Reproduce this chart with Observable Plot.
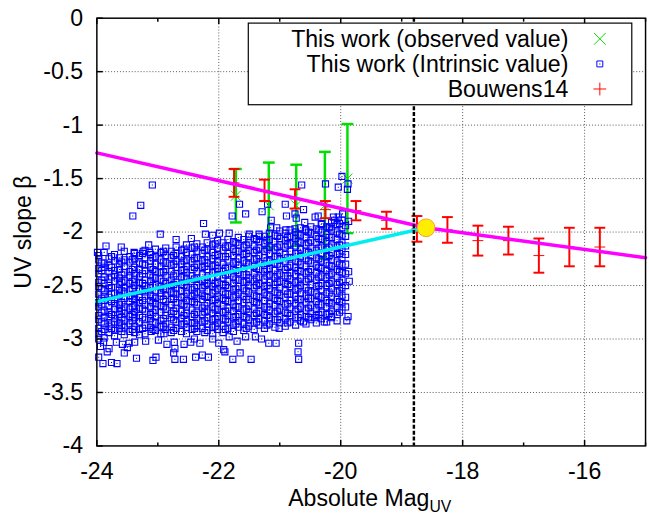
<!DOCTYPE html>
<html>
<head>
<meta charset="utf-8">
<script src="https://cdn.jsdelivr.net/npm/d3@7"></script>
<script src="https://cdn.jsdelivr.net/npm/@observablehq/plot@0.6"></script>
<style>
  html, body { margin: 0; padding: 0; background: #fff; overflow: hidden; }
</style>
</head>
<body>
<div id="chart"></div>
<script>
// ---------- axis ticks ----------
const xTicks = [-24, -22, -20, -18, -16];
const xMinorTicks = [-23, -21, -19, -17, -15];
const yTicks = [0, -0.5, -1, -1.5, -2, -2.5, -3, -3.5, -4];

// ---------- Bouwens et al. 2014 binned UV slopes ----------
const bouwensM    = [-21.75, -21.25, -20.75, -20.25, -19.75, -19.25, -18.75, -18.25, -17.75, -17.25, -16.75, -16.25, -15.75];
const bouwensBeta = [-1.54, -1.61, -1.69, -1.79, -1.80, -1.89, -1.97, -1.98, -2.08, -2.08, -2.22, -2.14, -2.14];
const bouwensErr  = [0.13, 0.10, 0.09, 0.08, 0.09, 0.08, 0.12, 0.12, 0.14, 0.13, 0.16, 0.18, 0.18];

// ---------- this work: observed (binned) ----------
const observedM    = [-21.72, -21.18, -20.73, -20.26, -19.89];
const observedBeta = [-1.66, -1.75, -1.75, -1.75, -1.50];
const observedErr  = [0.25, 0.40, 0.38, 0.50, 0.51];

// ---------- this work: intrinsic values of individual galaxies ----------
// dense part of the sample, grouped by magnitude
const intrinsicColumns = [
  [-23.97, [-2.22,-2.26,-2.34,-2.39,-2.47,-2.51,-2.58,-2.66,-2.70,-2.78,-2.82,-2.90,-2.95]],
  [-23.92, [-2.29,-2.36,-2.45,-2.53,-2.62,-2.68,-2.75,-2.84,-2.93]],
  [-23.88, [-2.19,-2.29,-2.33,-2.42,-2.48,-2.55,-2.60,-2.64,-2.73,-2.80,-2.86,-2.91,-2.99]],
  [-23.80, [-2.25,-2.31,-2.37,-2.44,-2.50,-2.53,-2.61,-2.69,-2.75,-2.79,-2.88,-2.94]],
  [-23.76, [-2.23,-2.33,-2.42,-2.52,-2.58,-2.65,-2.77,-2.86,-2.90]],
  [-23.71, [-2.21,-2.27,-2.36,-2.40,-2.46,-2.57,-2.63,-2.67,-2.72,-2.81,-2.84,-2.92,-2.97]],
  [-23.63, [-2.24,-2.30,-2.35,-2.43,-2.49,-2.54,-2.59,-2.68,-2.74,-2.77,-2.85,-2.90]],
  [-23.59, [-2.28,-2.40,-2.47,-2.55,-2.66,-2.73,-2.80,-2.87,-2.93]],
  [-23.55, [-2.18,-2.26,-2.32,-2.38,-2.45,-2.52,-2.56,-2.62,-2.70,-2.76,-2.83,-2.89,-2.96]],
  [-23.46, [-2.23,-2.28,-2.37,-2.41,-2.48,-2.55,-2.60,-2.65,-2.72,-2.79,-2.86,-2.93]],
  [-23.42, [-2.26,-2.35,-2.46,-2.53,-2.62,-2.70,-2.77,-2.83,-2.91]],
  [-23.38, [-2.20,-2.25,-2.33,-2.39,-2.44,-2.50,-2.58,-2.63,-2.69,-2.75,-2.80,-2.88,-2.94]],
  [-23.30, [-2.22,-2.29,-2.35,-2.42,-2.47,-2.53,-2.61,-2.66,-2.71,-2.78,-2.84,-2.91]],
  [-23.25, [-2.20,-2.30,-2.39,-2.48,-2.55,-2.64,-2.72,-2.80,-2.90]],
  [-23.21, [-2.17,-2.24,-2.31,-2.36,-2.45,-2.50,-2.56,-2.60,-2.68,-2.74,-2.82,-2.87,-2.95]],
  [-23.12, [-2.21,-2.27,-2.33,-2.40,-2.46,-2.52,-2.59,-2.64,-2.70,-2.77,-2.81,-2.89]],
  [-23.08, [-2.24,-2.35,-2.42,-2.50,-2.60,-2.66,-2.75,-2.84,-2.91]],
  [-23.04, [-2.16,-2.23,-2.30,-2.37,-2.43,-2.49,-2.55,-2.62,-2.67,-2.73,-2.79,-2.85,-2.92]],
  [-22.95, [-2.19,-2.26,-2.32,-2.38,-2.44,-2.51,-2.57,-2.60,-2.69,-2.75,-2.83,-2.88,-2.95]],
  [-22.91, [-2.18,-2.28,-2.37,-2.46,-2.53,-2.63,-2.70,-2.81,-2.88]],
  [-22.87, [-2.15,-2.22,-2.29,-2.35,-2.41,-2.48,-2.54,-2.59,-2.65,-2.72,-2.78,-2.86,-2.91]],
  [-22.78, [-2.18,-2.24,-2.31,-2.37,-2.45,-2.50,-2.56,-2.63,-2.68,-2.76,-2.80,-2.89,-2.94]],
  [-22.74, [-2.22,-2.30,-2.41,-2.49,-2.57,-2.62,-2.74,-2.82,-2.92]],
  [-22.70, [-2.14,-2.20,-2.27,-2.33,-2.39,-2.47,-2.53,-2.58,-2.66,-2.71,-2.77,-2.84,-2.90]],
  [-22.61, [-2.17,-2.23,-2.30,-2.36,-2.42,-2.49,-2.55,-2.61,-2.67,-2.74,-2.81,-2.86,-2.93]],
  [-22.57, [-2.16,-2.27,-2.35,-2.42,-2.50,-2.60,-2.68,-2.78,-2.86]],
  [-22.53, [-2.12,-2.19,-2.26,-2.32,-2.38,-2.44,-2.52,-2.57,-2.64,-2.70,-2.76,-2.83,-2.89,-2.95]],
  [-22.44, [-2.15,-2.21,-2.28,-2.35,-2.41,-2.46,-2.54,-2.60,-2.65,-2.73,-2.79,-2.85,-2.91]],
  [-22.40, [-2.14,-2.25,-2.33,-2.44,-2.52,-2.58,-2.66,-2.77,-2.85,-2.90]],
  [-22.36, [-2.11,-2.18,-2.24,-2.30,-2.37,-2.43,-2.50,-2.56,-2.62,-2.68,-2.75,-2.81,-2.88,-2.93]],
  [-22.27, [-2.14,-2.20,-2.27,-2.33,-2.40,-2.46,-2.52,-2.59,-2.63,-2.71,-2.77,-2.84,-2.90]],
  [-22.23, [-2.17,-2.26,-2.32,-2.45,-2.50,-2.60,-2.69,-2.75,-2.83,-2.94]],
  [-22.19, [-2.10,-2.16,-2.23,-2.29,-2.35,-2.42,-2.48,-2.55,-2.61,-2.66,-2.73,-2.80,-2.86,-2.92]],
  [-22.10, [-2.12,-2.19,-2.25,-2.32,-2.38,-2.44,-2.51,-2.57,-2.64,-2.70,-2.76,-2.82,-2.89,-2.95]],
  [-22.06, [-2.11,-2.22,-2.31,-2.37,-2.48,-2.55,-2.63,-2.72,-2.81,-2.88]],
  [-22.02, [-2.08,-2.15,-2.21,-2.28,-2.34,-2.41,-2.47,-2.53,-2.60,-2.67,-2.72,-2.79,-2.85,-2.91]],
  [-21.93, [-2.10,-2.17,-2.23,-2.30,-2.37,-2.43,-2.49,-2.56,-2.62,-2.69,-2.75,-2.81,-2.88,-2.94]],
  [-21.89, [-2.14,-2.23,-2.34,-2.40,-2.50,-2.58,-2.64,-2.74,-2.82,-2.91]],
  [-21.85, [-2.07,-2.13,-2.20,-2.26,-2.33,-2.39,-2.46,-2.52,-2.58,-2.65,-2.71,-2.78,-2.84,-2.90]],
  [-21.76, [-2.09,-2.16,-2.22,-2.29,-2.35,-2.42,-2.48,-2.54,-2.61,-2.68,-2.74,-2.80,-2.87,-2.93]],
  [-21.72, [-2.10,-2.18,-2.28,-2.36,-2.44,-2.53,-2.60,-2.70,-2.79,-2.86]],
  [-21.68, [-2.05,-2.12,-2.18,-2.25,-2.31,-2.38,-2.45,-2.51,-2.57,-2.64,-2.70,-2.77,-2.83,-2.89]],
  [-21.59, [-2.07,-2.14,-2.21,-2.27,-2.34,-2.40,-2.47,-2.53,-2.60,-2.66,-2.73,-2.79,-2.86,-2.92]],
  [-21.55, [-2.12,-2.20,-2.29,-2.40,-2.46,-2.55,-2.63,-2.72,-2.80,-2.90]],
  [-21.51, [-2.04,-2.10,-2.17,-2.23,-2.30,-2.37,-2.43,-2.50,-2.56,-2.63,-2.69,-2.75,-2.82,-2.88]],
  [-21.42, [-2.06,-2.13,-2.19,-2.26,-2.32,-2.39,-2.46,-2.52,-2.59,-2.65,-2.72,-2.78,-2.85,-2.91]],
  [-21.38, [-2.07,-2.17,-2.25,-2.34,-2.43,-2.50,-2.60,-2.66,-2.76,-2.84]],
  [-21.34, [-2.02,-2.09,-2.15,-2.22,-2.29,-2.35,-2.42,-2.48,-2.55,-2.61,-2.68,-2.74,-2.81,-2.87]],
  [-21.25, [-2.04,-2.11,-2.18,-2.24,-2.31,-2.37,-2.44,-2.51,-2.57,-2.64,-2.70,-2.77,-2.83,-2.90]],
  [-21.21, [-2.08,-2.16,-2.27,-2.35,-2.41,-2.50,-2.59,-2.70,-2.78,-2.87]],
  [-21.17, [-2.01,-2.07,-2.14,-2.20,-2.27,-2.34,-2.40,-2.47,-2.53,-2.60,-2.67,-2.73,-2.80,-2.86]],
  [-21.08, [-2.03,-2.09,-2.16,-2.23,-2.29,-2.36,-2.43,-2.49,-2.56,-2.62,-2.69,-2.76,-2.82,-2.89]],
  [-21.04, [-2.04,-2.14,-2.23,-2.30,-2.40,-2.47,-2.57,-2.64,-2.74,-2.82]],
  [-21.00, [-1.99,-2.06,-2.12,-2.19,-2.26,-2.32,-2.39,-2.46,-2.52,-2.59,-2.65,-2.72,-2.79,-2.85]],
  [-20.91, [-2.01,-2.08,-2.14,-2.21,-2.28,-2.35,-2.41,-2.48,-2.55,-2.61,-2.68,-2.75,-2.81,-2.88]],
  [-20.87, [-2.05,-2.12,-2.24,-2.33,-2.41,-2.49,-2.58,-2.67,-2.76,-2.85]],
  [-20.83, [-1.98,-2.04,-2.11,-2.18,-2.24,-2.31,-2.38,-2.44,-2.51,-2.58,-2.64,-2.71,-2.78,-2.84]],
  [-20.74, [-2.00,-2.06,-2.13,-2.20,-2.27,-2.33,-2.40,-2.47,-2.54,-2.60,-2.67,-2.74,-2.80,-2.87]],
  [-20.70, [-2.02,-2.09,-2.20,-2.28,-2.36,-2.46,-2.53,-2.63,-2.72,-2.80]],
  [-20.66, [-1.96,-2.03,-2.10,-2.16,-2.23,-2.30,-2.37,-2.43,-2.50,-2.57,-2.63,-2.70,-2.77,-2.83]],
  [-20.57, [-1.98,-2.05,-2.12,-2.18,-2.25,-2.32,-2.39,-2.46,-2.52,-2.59,-2.66,-2.73,-2.79,-2.86]],
  [-20.53, [-2.00,-2.10,-2.19,-2.27,-2.37,-2.44,-2.55,-2.62,-2.71,-2.80]],
  [-20.49, [-1.95,-2.01,-2.08,-2.15,-2.22,-2.29,-2.35,-2.42,-2.49,-2.56,-2.62,-2.69,-2.76,-2.82]],
  [-20.40, [-1.97,-2.04,-2.10,-2.17,-2.24,-2.31,-2.38,-2.45,-2.51,-2.58,-2.65,-2.72,-2.78,-2.85]],
  [-20.36, [-1.98,-2.06,-2.15,-2.25,-2.33,-2.42,-2.50,-2.60,-2.68,-2.77]],
  [-20.32, [-1.93,-2.00,-2.07,-2.14,-2.20,-2.27,-2.34,-2.41,-2.48,-2.54,-2.61,-2.68,-2.75,-2.81]],
  [-20.23, [-1.95,-2.02,-2.09,-2.16,-2.23,-2.29,-2.36,-2.43,-2.50,-2.57,-2.64,-2.70,-2.77,-2.84]],
  [-20.19, [-1.96,-2.05,-2.14,-2.22,-2.31,-2.40,-2.48,-2.57,-2.66,-2.76]],
  [-20.15, [-1.91,-1.98,-2.05,-2.12,-2.19,-2.26,-2.32,-2.39,-2.46,-2.53,-2.60,-2.67,-2.74,-2.80]],
  [-20.06, [-1.93,-2.00,-2.07,-2.14,-2.21,-2.28,-2.35,-2.42,-2.49,-2.56,-2.63,-2.70,-2.77,-2.83]],
  [-20.02, [-1.92,-2.02,-2.12,-2.20,-2.30,-2.37,-2.47,-2.55,-2.65,-2.75]],
  [-19.98, [-1.89,-1.96,-2.03,-2.10,-2.17,-2.24,-2.31,-2.38,-2.45,-2.52,-2.59,-2.66,-2.73]],
  [-19.92, [-1.94,-2.04,-2.13,-2.21,-2.30,-2.39,-2.50,-2.61,-2.70]]
];

// sparse galaxies above and below the main locus
const intrinsicScatter = [
  [-23.09,-1.56],[-23.28,-1.75],[-23.41,-1.85],[-22.96,-2.02],[-22.25,-1.92],[-22.22,-2.02],
  [-21.99,-2.01],[-21.83,-2.01],[-21.78,-1.85],[-21.66,-1.74],[-21.56,-1.83],[-21.50,-2.02],
  [-21.29,-1.81],[-21.20,-1.74],[-21.14,-1.89],[-21.33,-2.04],[-21.15,-1.96],[-21.05,-1.96],
  [-20.91,-1.74],[-20.89,-1.85],[-20.90,-1.98],[-20.75,-1.83],[-20.73,-1.87],[-20.75,-1.97],
  [-20.64,-1.56],[-20.61,-1.79],[-20.59,-1.91],[-20.58,-1.98],[-20.42,-1.86],[-20.37,-1.85],
  [-20.31,-1.92],[-20.25,-1.55],[-20.18,-1.95],[-20.12,-1.86],[-20.04,-1.86],[-20.04,-1.58],
  [-19.98,-1.48],[-19.88,-1.55],[-19.89,-1.60],[-19.87,-1.90],[-19.97,-1.83],[-20.10,-1.89],
  [-19.87,-2.37],[-19.86,-2.46],[-19.88,-2.79],[-19.90,-2.83],
  [-23.99,-2.19],[-23.39,-2.19],[-23.24,-2.18],[-23.13,-2.19],[-23.85,-2.13],[-23.60,-2.14],
  [-23.15,-2.12],[-22.70,-2.07],[-22.45,-2.06],[-22.10,-2.03],
  [-23.97,-3.17],[-23.90,-3.23],[-23.76,-3.22],[-23.67,-3.23],[-23.35,-3.18],[-23.08,-3.20],
  [-23.03,-3.17],[-22.72,-3.19],[-22.58,-3.19],[-22.38,-3.17],[-22.27,-3.15],[-22.17,-3.17],
  [-21.90,-3.12],[-21.77,-3.19],[-21.65,-3.13],[-21.47,-3.19],[-21.18,-3.04],[-21.06,-3.04],
  [-20.69,-3.04],[-20.70,-3.12],[-20.69,-3.19],[-21.92,-3.10],
  [-23.97,-3.00],[-23.89,-3.03],[-23.80,-3.09],[-23.68,-3.03],[-23.58,-3.05],[-23.55,-3.13],
  [-23.47,-3.04],[-23.38,-3.03],[-23.30,-2.96],[-23.11,-2.93],[-22.99,-3.01],[-22.90,-2.95],
  [-22.73,-3.03],[-22.72,-3.09],[-22.74,-3.13],[-22.57,-3.05],[-22.46,-3.03],[-22.31,-3.04],
  [-22.00,-3.04],[-21.83,-2.98],[-21.56,-2.98],[-21.01,-2.90],[-20.61,-2.84],[-20.42,-2.80],
  [-20.27,-2.84],[-20.15,-2.79],[-23.94,-3.07],[-23.83,-3.12],[-23.50,-3.08],[-23.20,-3.02],
  [-22.85,-3.05],[-22.40,-3.00],[-22.10,-3.00],[-21.70,-3.02],[-21.40,-2.98],[-21.30,-3.00]
];

// ---------- relations ----------
const bouwensRelation = [[-24, -1.26], [-18.6, -1.96], [-15, -2.24]];
const intrinsicFit    = [[-24, -2.65], [-18.6, -1.96]];
const pivotPoint      = [[-18.6, -1.96]];
const turnoverMag     = [-18.8];

const legendLabels = ["This work (observed value)", "This work (Intrinsic value)", "Bouwens14"];

// ---------- tables ----------
const bouwens  = bouwensM.map((M, i) => ({M, beta: bouwensBeta[i], err: bouwensErr[i]}));
const observed = observedM.map((M, i) => ({M, beta: observedBeta[i], err: observedErr[i]}));
const intrinsic = intrinsicColumns
  .flatMap(([M, betas]) => betas.map(beta => ({M, beta})))
  .concat(intrinsicScatter.map(([M, beta]) => ({M, beta})));

// ---------- colours ----------
const GREEN = "#00e000", BLUE = "#0000ff", RED = "#ff0000",
      MAGENTA = "#ff00ff", CYAN = "#00eeee", YELLOW = "#ffee00";
const FONT = 23.5;

// ---------- stroke-only symbols (size = pi r^2) ----------
const rad = size => Math.sqrt(size / Math.PI);
const hline    = {draw(c, s) { const r = rad(s); c.moveTo(-r, 0); c.lineTo(r, 0); }};
const tickUp   = {draw(c, s) { const r = rad(s); c.moveTo(0, 0); c.lineTo(0, -r); }};
const tickDown = {draw(c, s) { const r = rad(s); c.moveTo(0, 0); c.lineTo(0, r); }};
const tickRight= {draw(c, s) { const r = rad(s); c.moveTo(0, 0); c.lineTo(r, 0); }};

const num = d => String(d);
const grid = {stroke: "#555", strokeOpacity: 1, strokeWidth: 1, strokeDasharray: "1,2"};

const plot = Plot.plot({
  width: 660,
  height: 525,
  marginLeft: 98,
  marginRight: 4,
  marginTop: 18,
  marginBottom: 72,
  x: {domain: [-24, -15]},
  y: {domain: [-4, 0]},
  style: {fontFamily: "'Liberation Sans', Arial, sans-serif", fontSize: FONT + "px", background: "#fff", color: "#000"},
  marks: [
    Plot.gridX(xTicks.slice(1), grid),
    Plot.gridY(yTicks.slice(1, -1), grid),

    // observed bins
    Plot.ruleX(observed, {x: "M", y1: d => d.beta - d.err, y2: d => d.beta + d.err, stroke: GREEN, strokeWidth: 2.5}),
    Plot.dot(observed, {x: "M", y: d => d.beta - d.err, symbol: hline, r: 6, fill: "none", stroke: GREEN, strokeWidth: 2.5}),
    Plot.dot(observed, {x: "M", y: d => d.beta + d.err, symbol: hline, r: 6, fill: "none", stroke: GREEN, strokeWidth: 2.5}),
    Plot.dot(observed, {x: "M", y: "beta", symbol: "times", r: 4.7, fill: "none", stroke: GREEN, strokeWidth: 1}),

    // intrinsic galaxies: open square with a centre dot
    Plot.dot(intrinsic, {x: "M", y: "beta", symbol: "square", r: 3.5, fill: "none", stroke: BLUE, strokeWidth: 1.1}),
    Plot.dot(intrinsic, {x: "M", y: "beta", symbol: "square", r: 0.6, fill: BLUE, stroke: "none"}),

    // Bouwens14 bins
    Plot.ruleX(bouwens, {x: "M", y1: d => d.beta - d.err, y2: d => d.beta + d.err, stroke: RED, strokeWidth: 2}),
    Plot.dot(bouwens, {x: "M", y: d => d.beta - d.err, symbol: hline, r: 5.5, fill: "none", stroke: RED, strokeWidth: 2}),
    Plot.dot(bouwens, {x: "M", y: d => d.beta + d.err, symbol: hline, r: 5.5, fill: "none", stroke: RED, strokeWidth: 2}),
    Plot.dot(bouwens, {x: "M", y: "beta", symbol: hline, r: 5.5, fill: "none", stroke: RED, strokeWidth: 1}),

    // relations
    Plot.line(intrinsicFit, {x: d => d[0], y: d => d[1], stroke: CYAN, strokeWidth: 3.5}),
    Plot.line(bouwensRelation, {x: d => d[0], y: d => d[1], stroke: MAGENTA, strokeWidth: 3.5}),
    Plot.ruleX(turnoverMag, {stroke: "#000", strokeWidth: 2.5, strokeDasharray: "4,2"}),
    Plot.dot(pivotPoint, {x: d => d[0], y: d => d[1], r: 9, fill: YELLOW, stroke: "#f0a020", strokeWidth: 1}),

    // frame and inward ticks
    Plot.frame({stroke: "#000", strokeWidth: 1.5}),
    Plot.dot(xTicks, {x: d => d, frameAnchor: "bottom", symbol: tickUp, r: 6, stroke: "#000", fill: "none"}),
    Plot.dot(xTicks, {x: d => d, frameAnchor: "top", symbol: tickDown, r: 6, stroke: "#000", fill: "none"}),
    Plot.dot(xMinorTicks, {x: d => d, frameAnchor: "bottom", symbol: tickUp, r: 3.5, stroke: "#000", fill: "none"}),
    Plot.dot(xMinorTicks, {x: d => d, frameAnchor: "top", symbol: tickDown, r: 3.5, stroke: "#000", fill: "none"}),
    Plot.dot(yTicks, {y: d => d, frameAnchor: "left", symbol: tickRight, r: 6, stroke: "#000", fill: "none"}),

    Plot.axisX(xTicks, {tickSize: 0, tickPadding: 17, tickFormat: num, label: null}),
    Plot.axisY(yTicks, {tickSize: 0, tickPadding: 14, tickFormat: num, label: null})
  ]
});

const svg = d3.select(plot);

// axis titles
svg.append("text")
  .attr("x", 376).attr("y", 515)
  .attr("text-anchor", "middle")
  .attr("font-size", FONT)
  .attr("fill", "#000")
  .text("Absolute Mag")
  .append("tspan").attr("dy", 6).attr("font-size", 16).text("UV");

svg.append("text")
  .attr("transform", "translate(32,236) rotate(-90)")
  .attr("text-anchor", "middle")
  .attr("font-size", FONT)
  .attr("fill", "#000")
  .text("UV slope β");

// key
const key = svg.append("g");
key.append("rect")
  .attr("x", 252.5).attr("y", 23.5).attr("width", 390).attr("height", 83)
  .attr("fill", "#fff").attr("stroke", "#000").attr("stroke-width", 1.2);

const rowY = [39.5, 65, 90.5];
legendLabels.forEach((label, i) => {
  key.append("text")
    .attr("x", 578).attr("y", rowY[i]).attr("dy", "0.35em")
    .attr("text-anchor", "end").attr("font-size", FONT).attr("fill", "#000")
    .text(label);
});
key.append("path")
  .attr("transform", `translate(610,${rowY[0]})`)
  .attr("d", d3.symbol(d3.symbolTimes, Math.PI * 5.5 * 5.5)())
  .attr("fill", "none").attr("stroke", GREEN).attr("stroke-width", 1);
key.append("path")
  .attr("transform", `translate(610,${rowY[1]})`)
  .attr("d", d3.symbol(d3.symbolSquare, Math.PI * 3.4 * 3.4)())
  .attr("fill", "none").attr("stroke", BLUE).attr("stroke-width", 1);
key.append("path")
  .attr("transform", `translate(610,${rowY[1]})`)
  .attr("d", d3.symbol(d3.symbolSquare, Math.PI * 0.6 * 0.6)())
  .attr("fill", BLUE);
key.append("path")
  .attr("transform", `translate(610,${rowY[2]})`)
  .attr("d", "M-6.5,0H6.5M0,-6.5V6.5")
  .attr("fill", "none").attr("stroke", RED).attr("stroke-width", 1);

document.getElementById("chart").appendChild(plot);
</script>
</body>
</html>
